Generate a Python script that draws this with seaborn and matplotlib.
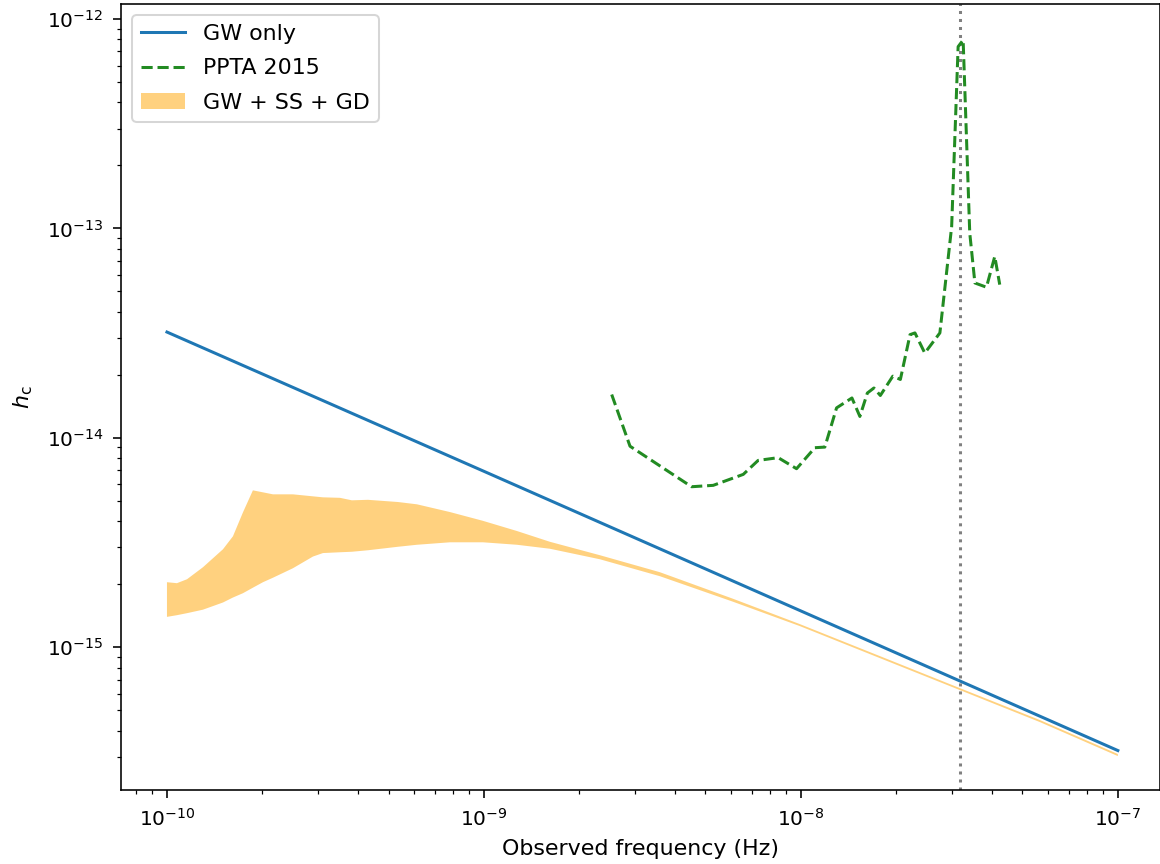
import matplotlib
matplotlib.use("Agg")
import matplotlib.pyplot as plt
from matplotlib.ticker import NullFormatter
import seaborn as sns
import numpy as np

# ---- data -------------------------------------------------------------
gw_freq = [1e-10, 1e-9, 1e-8, 1e-7]
gw_hc = [3.2e-14, 6.92e-15, 1.49e-15, 3.21e-16]

ppta_freq = [2.53e-9, 2.89e-9, 4.52e-9, 5.29e-9, 6.58e-9, 7.33e-9, 8.48e-9, 9.69e-9,
             1.107e-8, 1.19e-8, 1.296e-8, 1.449e-8, 1.535e-8, 1.621e-8, 1.70e-8,
             1.781e-8, 1.95e-8, 2.06e-8, 2.21e-8, 2.29e-8, 2.46e-8, 2.745e-8,
             2.99e-8, 3.134e-8, 3.25e-8, 3.41e-8, 3.54e-8, 3.85e-8, 4.09e-8, 4.24e-8]
ppta_hc = [1.61e-14, 9.12e-15, 5.84e-15, 5.93e-15, 6.69e-15, 7.80e-15, 8.04e-15, 7.12e-15,
           8.97e-15, 9.03e-15, 1.39e-14, 1.55e-14, 1.265e-14, 1.637e-14, 1.73e-14,
           1.593e-14, 1.97e-14, 1.90e-14, 3.11e-14, 3.17e-14, 2.54e-14, 3.17e-14,
           1.02e-13, 7.38e-13, 7.94e-13, 9.51e-14, 5.49e-14, 5.24e-14, 7.35e-14, 5.39e-14]

band_freq = [1.00e-10, 1.075e-10, 1.157e-10, 1.299e-10, 1.502e-10, 1.615e-10, 1.737e-10,
             1.867e-10, 2.009e-10, 2.160e-10, 2.497e-10, 2.888e-10, 3.106e-10, 3.514e-10,
             3.833e-10, 4.306e-10, 5.355e-10, 6.147e-10, 7.812e-10, 9.93e-10, 1.271e-9,
             1.615e-9, 2.323e-9, 3.592e-9, 6.10e-9, 9.93e-9, 1.775e-8, 3.06e-8, 5.675e-8, 1.0e-7]
band_upper = [2.044e-15, 2.022e-15, 2.112e-15, 2.410e-15, 2.936e-15, 3.386e-15, 4.406e-15,
              5.613e-15, 5.491e-15, 5.372e-15, 5.372e-15, 5.255e-15, 5.198e-15, 5.170e-15,
              5.030e-15, 5.058e-15, 4.937e-15, 4.814e-15, 4.421e-15, 4.014e-15, 3.589e-15,
              3.188e-15, 2.750e-15, 2.281e-15, 1.705e-15, 1.289e-15, 9.07e-16, 6.52e-16,
              4.49e-16, 3.09e-16]
band_lower = [1.396e-15, 1.422e-15, 1.454e-15, 1.511e-15, 1.635e-15, 1.727e-15, 1.811e-15,
              1.924e-15, 2.044e-15, 2.147e-15, 2.383e-15, 2.710e-15, 2.816e-15, 2.841e-15,
              2.857e-15, 2.904e-15, 3.018e-15, 3.085e-15, 3.170e-15, 3.170e-15, 3.085e-15,
              2.953e-15, 2.630e-15, 2.183e-15, 1.650e-15, 1.261e-15, 8.87e-16, 6.38e-16,
              4.39e-16, 3.02e-16]

freq_1yr = 3.17e-8

labels = ["GW only", "PPTA 2015", "GW + SS + GD"]

# ---- plot -------------------------------------------------------------
DPI = 145
fig = plt.figure(figsize=(1160 / DPI, 864 / DPI), dpi=DPI)
ax = fig.add_axes([121 / 1160, 74 / 864, (1160 - 121) / 1160, (790 - 4) / 864])
ax.set_xscale("log")
ax.set_yscale("log")

band = ax.fill_between(band_freq, band_lower, band_upper, color="orange", alpha=0.5,
                       linewidth=0.4, edgecolor="none", label=labels[2], zorder=1)
sns.lineplot(x=gw_freq, y=gw_hc, ax=ax, color="#1f77b4", linewidth=1.5,
             label=labels[0], errorbar=None, zorder=3)
sns.lineplot(x=ppta_freq, y=ppta_hc, ax=ax, color="forestgreen", linewidth=1.5,
             linestyle="--", label=labels[1], errorbar=None, zorder=3)
ax.axvline(freq_1yr, color="grey", linestyle=":", linewidth=1.5, zorder=2)

ax.set_xlim(10 ** -10.145, 10 ** -6.867)
ax.set_ylim(2.08e-16, 1.18e-12)

ax.set_xlabel("Observed frequency (Hz)", fontsize=11, labelpad=5)
ax.set_ylabel(r"$h_\mathrm{c}$", fontsize=11, labelpad=6)
ax.tick_params(axis="both", which="major", labelsize=10, length=4.2, pad=4.5)
ax.tick_params(axis="both", which="minor", length=2.2)
ax.xaxis.set_minor_formatter(NullFormatter())
ax.yaxis.set_minor_formatter(NullFormatter())

handles = [ax.lines[0], ax.lines[1], band]
ax.legend(handles, labels, loc="upper left", fontsize=11, labelspacing=0.65,
          borderaxespad=0.5)

fig.savefig("out.png", dpi=DPI)
